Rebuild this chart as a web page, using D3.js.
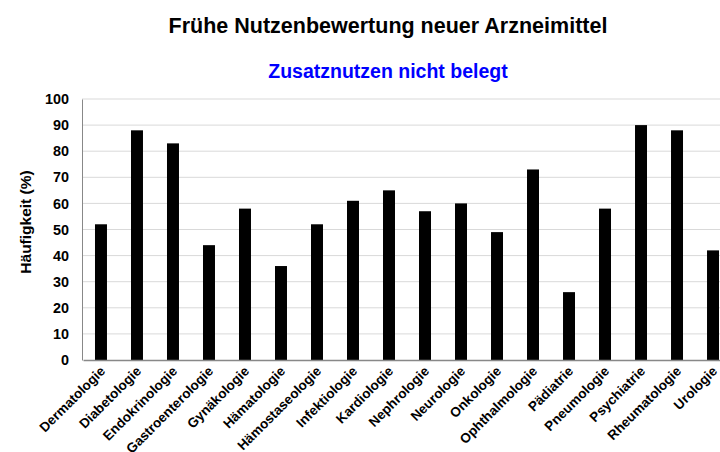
<!DOCTYPE html>
<html><head><meta charset="utf-8">
<script src="https://cdn.jsdelivr.net/npm/d3@7"></script>
<style>body{margin:0;background:#fff;overflow:hidden}svg{display:block;font-family:"Liberation Sans",Arial,sans-serif}</style>
</head><body>
<svg id="c" width="720" height="452"></svg>
<script>
const categories = ["Dermatologie","Diabetologie","Endokrinologie","Gastroenterologie","Gynäkologie","Hämatologie","Hämostaseologie","Infektiologie","Kardiologie","Nephrologie","Neurologie","Onkologie","Ophthalmologie","Pädiatrie","Pneumologie","Psychiatrie","Rheumatologie","Urologie"];
const values = [52,88,83,44,58,36,52,61,65,57,60,49,73,26,58,90,88,42];
const yTicks = [0,10,20,30,40,50,60,70,80,90,100];
const title = "Frühe Nutzenbewertung neuer Arzneimittel";
const subtitle = "Zusatznutzen nicht belegt";
const yLabel = "Häufigkeit (%)";

(function(){
const svg = d3.select("#c");
const mLeft = 82, mTop = 99, mBottom = 360;
const x = d3.scaleBand().domain(categories).range([mLeft + 1, mLeft + 1 + 36 * 18]).paddingInner(0.667).paddingOuter(0.333);
const y = d3.scaleLinear().domain([0,100]).range([mBottom, mTop]);

svg.append("g").selectAll("line").data(yTicks.filter(d=>d>0)).join("line")
  .attr("x1", mLeft).attr("x2", 720).attr("y1", d=>y(d)).attr("y2", d=>y(d))
  .attr("stroke", "#d9d9d9").attr("stroke-width", 1);

svg.append("g").selectAll("rect").data(values).join("rect")
  .attr("x", (d,i)=>x(categories[i])).attr("width", x.bandwidth())
  .attr("y", d=>y(d)).attr("height", d=>mBottom - y(d)).attr("fill", "#000");

const ya = svg.append("g").attr("transform", `translate(${mLeft},0)`)
  .call(d3.axisLeft(y).tickValues(yTicks).tickSize(0).tickPadding(13));
ya.select(".domain").attr("stroke", "#888");
ya.selectAll("text").attr("font-size", 14.4).attr("font-weight", "bold").attr("fill", "#000").attr("font-family", "Liberation Sans, Arial, sans-serif");

const xa = svg.append("g").attr("transform", `translate(0,${mBottom})`)
  .call(d3.axisBottom(x).tickSize(0).tickPadding(0));
xa.select(".domain").attr("stroke", "#888").attr("stroke-width", 1.5);
xa.selectAll("text").attr("font-size", 13.5).attr("font-weight", "bold").attr("fill", "#000")
  .attr("font-family", "Liberation Sans, Arial, sans-serif")
  .attr("text-anchor", "end").attr("dy", 0).attr("y", 0)
  .attr("transform", "translate(5,12) rotate(-45)");

svg.append("text").attr("x", 388).attr("y", 33).attr("text-anchor", "middle")
  .attr("font-size", 21.5).attr("font-weight", "bold").attr("fill", "#000").text(title);
svg.append("text").attr("x", 388).attr("y", 78).attr("text-anchor", "middle")
  .attr("font-size", 19.5).attr("font-weight", "bold").attr("fill", "#0000ff").text(subtitle);
svg.append("text").attr("transform", "translate(31,222) rotate(-90)").attr("text-anchor", "middle")
  .attr("font-size", 15.5).attr("font-weight", "bold").attr("fill", "#000").text(yLabel);
})();
</script>
</body></html>
